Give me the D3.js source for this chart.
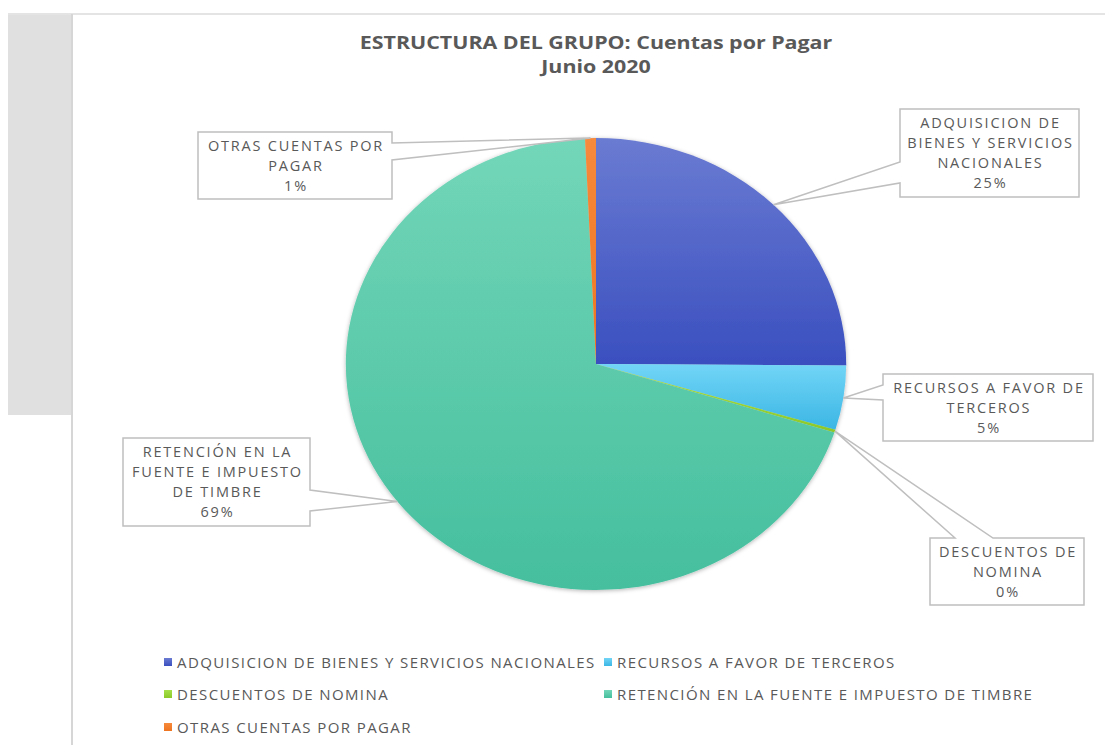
<!DOCTYPE html>
<html>
<head>
<meta charset="utf-8">
<script src="https://cdn.jsdelivr.net/npm/d3@7"></script>
<style>
  body { margin: 0; background: #fff; }
  text { font-family: "Open Sans", sans-serif; fill: #595959; }
</style>
</head>
<body>
<div id="vis"></div>
<script>
'use strict';
// data
var categories = ['ADQUISICION DE BIENES Y SERVICIOS NACIONALES', 'RECURSOS A FAVOR DE TERCEROS',
  'DESCUENTOS DE NOMINA', 'RETENCIÓN EN LA FUENTE E IMPUESTO DE TIMBRE', 'OTRAS CUENTAS POR PAGAR'];
var values = [25.1, 4.6, 0.2, 69.4, 0.7];
var labelLines = [
  ['ADQUISICION DE', 'BIENES Y SERVICIOS', 'NACIONALES'],
  ['RECURSOS A FAVOR DE', 'TERCEROS'],
  ['DESCUENTOS DE', 'NOMINA'],
  ['RETENCIÓN EN LA', 'FUENTE E IMPUESTO', 'DE TIMBRE'],
  ['OTRAS CUENTAS POR', 'PAGAR']
];
var titleLines = ['ESTRUCTURA DEL GRUPO: Cuentas por Pagar', 'Junio 2020'];

// styling / layout
var width = 1105, height = 745;
var cx = 596, cy = 364, r = 226, stretch = 1.107;
var colTop = ['#6a7bd2', '#72d5f7', '#a6e04a', '#73d6b8', '#f68a3c'];
var colBot = ['#3a4fbf', '#3bb6e4', '#8cc828', '#45bf9e', '#ee7420'];
// callout boxes: x, y, w, h, side where the pointer leaves, and pointer base (a,b)
var boxes = [
  { x: 900, y: 109, w: 179, h: 88, side: 'left', a: 162, b: 183 },
  { x: 883, y: 374, w: 210, h: 67, side: 'left', a: 385, b: 400 },
  { x: 930, y: 538, w: 154, h: 67, side: 'top', a: 955, b: 993 },
  { x: 123, y: 438, w: 187, h: 88, side: 'right', a: 490, b: 511 },
  { x: 198, y: 132, w: 194, h: 67, side: 'right', a: 143, b: 160 }
];

var svg = d3.select('#vis').append('svg')
  .attr('width', width).attr('height', height);

var defs = svg.append('defs');
categories.forEach(function (c, i) {
  var g = defs.append('linearGradient').attr('id', 'g' + i)
    .attr('x1', 0).attr('y1', 0).attr('x2', 0).attr('y2', 1);
  g.append('stop').attr('offset', '0%').attr('stop-color', colTop[i]);
  g.append('stop').attr('offset', '100%').attr('stop-color', colBot[i]);
});
defs.append('filter').attr('id', 'shadow')
  .attr('x', '-10%').attr('y', '-10%').attr('width', '120%').attr('height', '120%')
  .append('feDropShadow').attr('dx', 0).attr('dy', 1).attr('stdDeviation', 2)
  .attr('flood-color', '#000').attr('flood-opacity', 0.3);

// frame bits (sheet background)
svg.append('rect').attr('x', 8).attr('y', 14).attr('width', 64).attr('height', 401).attr('fill', '#e0e0e0');
svg.append('line').attr('x1', 8).attr('x2', width).attr('y1', 14).attr('y2', 14)
  .attr('stroke', '#e4e4e4').attr('stroke-width', 2);
svg.append('line').attr('x1', 72).attr('x2', 72).attr('y1', 14).attr('y2', height)
  .attr('stroke', '#d6d6d6').attr('stroke-width', 2);

// title (stretched a bit wider like the original)
titleLines.forEach(function (s, k) {
  svg.append('g').attr('transform', 'translate(' + cx + ',' + (49 + k * 24) + ') scale(1.19,1)')
    .append('text').attr('text-anchor', 'middle')
    .style('font-weight', 'bold').style('font-size', '18px').text(s);
});

// pie
var pie = d3.pie().sort(null).value(function (d) { return d; });
var arcs = pie(values);
var arc = d3.arc().innerRadius(0).outerRadius(r);
var edge = d3.arc().innerRadius(r).outerRadius(r);

var gPie = svg.append('g')
  .attr('transform', 'translate(' + cx + ',' + cy + ') scale(' + stretch + ',1)')
  .attr('filter', 'url(#shadow)');
gPie.selectAll('path').data(arcs).enter().append('path')
  .attr('d', arc)
  .attr('fill', function (d, i) { return 'url(#g' + i + ')'; });

// callouts
function calloutPath(b, tip) {
  var x0 = b.x, y0 = b.y, x1 = b.x + b.w, y1 = b.y + b.h;
  var p;
  if (b.side === 'left') {
    p = [[x0, y0], [x1, y0], [x1, y1], [x0, y1], [x0, b.b], tip, [x0, b.a]];
  } else if (b.side === 'right') {
    p = [[x0, y0], [x1, y0], [x1, b.a], tip, [x1, b.b], [x1, y1], [x0, y1]];
  } else {
    p = [[x0, y0], [b.a, y0], tip, [b.b, y0], [x1, y0], [x1, y1], [x0, y1]];
  }
  return 'M' + p.join('L') + 'Z';
}

var gLab = svg.append('g');
arcs.forEach(function (d, i) {
  var c = edge.centroid(d);
  var tip = [cx + c[0] * stretch, cy + c[1]];
  var b = boxes[i];
  gLab.append('path').attr('d', calloutPath(b, tip))
    .attr('fill', '#fff').attr('stroke', '#bfbfbf').attr('stroke-width', 1.5);
  var lines = labelLines[i].concat([Math.round(values[i]) + '%']);
  var lh = 20;
  var y0 = b.y + b.h / 2 - (lines.length - 1) * lh / 2 + 5;
  var t = gLab.append('text').attr('text-anchor', 'middle')
    .style('font-size', '14.5px').style('letter-spacing', '1.8px');
  lines.forEach(function (s, k) {
    t.append('tspan').attr('x', b.x + b.w / 2 + 1).attr('y', y0 + k * lh).text(s);
  });
});

// legend
var legX = [164, 604], legY = [662, 694, 727];
var gLeg = svg.append('g');
categories.forEach(function (c, i) {
  var x = legX[i % 2], y = legY[Math.floor(i / 2)];
  gLeg.append('rect').attr('x', x).attr('y', y - 4).attr('width', 8).attr('height', 8)
    .attr('fill', 'url(#g' + i + ')');
  gLeg.append('text').attr('x', x + 13).attr('y', y + 5.5)
    .style('font-size', '15px').style('letter-spacing', '1.4px').text(c);
});
</script>
</body>
</html>
